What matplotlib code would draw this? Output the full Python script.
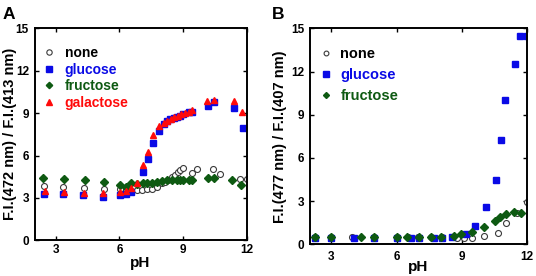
import matplotlib
matplotlib.use("Agg")
import matplotlib.pyplot as plt

plt.rcParams['font.family'] = ['Liberation Sans', 'DejaVu Sans']
plt.rcParams['font.weight'] = 'bold'

# ---------------- Panel A data ----------------
a_none_ph = [2.46, 3.36, 4.35, 5.28, 6.03, 6.30, 6.55, 6.82, 7.07, 7.30, 7.53, 7.76, 8.00,
             8.15, 8.30, 8.47, 8.62, 8.75, 8.86, 9.02, 9.42, 9.65, 10.39, 10.75, 11.69, 12.0]
a_none_val = [3.87, 3.80, 3.68, 3.63, 3.60, 3.55, 3.51, 3.55, 3.55, 3.60, 3.65, 3.75, 4.03,
              4.15, 4.27, 4.45, 4.62, 4.80, 4.98, 5.10, 4.74, 5.05, 5.05, 4.69, 4.34, 4.34]

a_glu_ph = [2.46, 3.36, 4.30, 5.21, 6.03, 6.30, 6.54, 7.10, 7.37, 7.60, 7.89, 8.08, 8.24,
            8.40, 8.56, 8.72, 8.88, 9.02, 9.26, 9.44, 10.17, 10.48, 11.42, 11.82]
a_glu_val = [3.28, 3.25, 3.21, 3.04, 3.18, 3.28, 3.44, 4.81, 5.75, 6.86, 7.74, 8.25, 8.42,
             8.55, 8.63, 8.72, 8.82, 8.92, 9.06, 9.06, 9.53, 9.78, 9.34, 7.93]

a_fru_ph = [2.40, 3.40, 4.36, 5.28, 6.03, 6.30, 6.54, 6.82, 7.10, 7.30, 7.53, 7.76, 8.00,
            8.24, 8.47, 8.71, 8.88, 9.02, 9.26, 9.42, 10.17, 10.48, 11.30, 11.73]
a_fru_val = [4.43, 4.34, 4.27, 4.10, 3.91, 3.75, 4.03, 3.98, 4.03, 4.05, 4.08, 4.15, 4.22,
             4.27, 4.30, 4.30, 4.25, 4.27, 4.27, 4.27, 4.43, 4.39, 4.27, 3.91]

a_gal_ph = [2.50, 3.38, 4.32, 5.24, 6.05, 6.32, 6.56, 6.82, 7.10, 7.37, 7.60, 7.89, 8.10,
            8.26, 8.42, 8.58, 8.74, 8.92, 9.08, 9.26, 9.44, 10.14, 10.48, 11.40, 11.77]
a_gal_val = [3.46, 3.42, 3.37, 3.33, 3.40, 3.50, 3.70, 4.08, 5.33, 6.27, 7.45, 8.09, 8.30,
             8.45, 8.60, 8.70, 8.80, 8.95, 9.02, 9.10, 9.22, 9.88, 9.94, 9.88, 9.10]

# ---------------- Panel B data ----------------
b_none_ph = [2.23, 3.0, 3.95, 4.97, 6.0, 6.55, 7.0, 7.6, 8.1, 8.81, 9.12, 9.48, 10.04,
             10.66, 11.04, 11.55, 12.0]
b_none_val = [0.5, 0.5, 0.5, 0.5, 0.5, 0.5, 0.5, 0.5, 0.5, 0.42, 0.46, 0.46, 0.58,
              0.76, 1.46, 2.15, 2.92]

b_glu_ph = [2.23, 3.0, 4.04, 4.97, 6.04, 6.66, 7.03, 7.72, 8.10, 8.57, 9.18, 9.63, 10.12,
            10.58, 10.81, 11.01, 11.44, 11.67, 12.01]
b_glu_val = [0.45, 0.45, 0.45, 0.45, 0.45, 0.45, 0.45, 0.45, 0.45, 0.49, 0.70, 1.29, 2.57,
             4.47, 7.25, 10.03, 12.5, 14.44, 14.48]

b_fru_ph = [2.23, 3.0, 4.38, 4.97, 6.0, 6.5, 7.03, 7.57, 8.07, 8.66, 8.98, 9.5, 10.01,
            10.52, 10.78, 11.06, 11.40, 11.75]
b_fru_val = [0.53, 0.53, 0.52, 0.50, 0.48, 0.48, 0.48, 0.48, 0.50, 0.55, 0.70, 0.83, 1.18,
             1.62, 1.88, 2.09, 2.27, 2.20]

xticks = [3, 6, 9, 12]
yticks = [0, 3, 6, 9, 12, 15]

BLUE = '#0A0AE6'
GREEN = '#0E5A12'
RED = '#FF0A0A'
GRAY = '#3a3a3a'

W, H = 536, 276
fig = plt.figure(figsize=(W / 100, H / 100), dpi=100)

axA = fig.add_axes([34.5 / W, (H - 240.3) / H, (246.7 - 34.5) / W, (240.3 - 28.3) / H])
axB = fig.add_axes([309.7 / W, (H - 244.3) / H, (526.7 - 309.7) / W, (244.3 - 28.3) / H])


def style(ax, ylabel, xpad, ypad, xlabelpad):
    ax.set_xlim(2, 12)
    ax.set_ylim(0, 15)
    ax.set_xticks(xticks)
    ax.set_yticks(yticks)
    ax.tick_params(direction='in', top=True, right=True, length=3, width=1.0,
                   labelsize=8.5)
    ax.tick_params(axis='x', pad=xpad)
    ax.tick_params(axis='y', pad=ypad)
    for s in ax.spines.values():
        s.set_linewidth(1.4)
    ax.set_xlabel('pH', fontsize=11, fontweight='bold', labelpad=xlabelpad)
    ax.set_ylabel(ylabel, fontsize=10.5, fontweight='bold')


# Panel A
axA.plot(a_none_ph, a_none_val, 'o', ms=4.3, mfc='white', mec=GRAY, mew=0.8, label='none')
axA.plot(a_glu_ph, a_glu_val, 's', ms=4.3, color=BLUE, mec=BLUE, label='glucose')
axA.plot(a_fru_ph, a_fru_val, 'D', ms=3.6, color=GREEN, mec=GREEN, label='fructose')
axA.plot(a_gal_ph, a_gal_val, '^', ms=5.0, color=RED, mec=RED, label='galactose')
style(axA, 'F.I.(472 nm) / F.I.(413 nm)', 2.5, 4, 0)
axA.yaxis.set_label_coords(-0.082, 0.5)

# Panel B
axB.plot(b_none_ph, b_none_val, 'o', ms=4.3, mfc='white', mec=GRAY, mew=0.8, label='none')
axB.plot(b_glu_ph, b_glu_val, 's', ms=4.6, color=BLUE, mec=BLUE, label='glucose')
axB.plot(b_fru_ph, b_fru_val, 'D', ms=3.8, color=GREEN, mec=GREEN, label='fructose')
style(axB, 'F.I.(477 nm) / F.I.(407 nm)', 4.5, 4, -2)
axB.yaxis.set_label_coords(-0.105, 0.5)

text_colors = ['black', BLUE, GREEN, RED]

legA = axA.legend(loc='upper left', bbox_to_anchor=(0.035, 0.915), frameon=False,
                  fontsize=10, handlelength=1.0, handletextpad=0.65, borderpad=0,
                  borderaxespad=0, labelspacing=0.18, markerscale=0.9)
for t, c in zip(legA.get_texts(), text_colors):
    t.set_color(c)
    t.set_fontweight('bold')

legB = axB.legend(loc='upper left', bbox_to_anchor=(0.04, 0.915), frameon=False,
                  fontsize=10.5, handlelength=1.0, handletextpad=0.5, borderpad=0,
                  borderaxespad=0, labelspacing=0.5, markerscale=0.8)
for t, c in zip(legB.get_texts(), text_colors):
    t.set_color(c)
    t.set_fontweight('bold')

fig.text(3 / W, 1 - 7 / H, 'A', fontsize=12.5, fontweight='bold', va='top', ha='left')
fig.text(272 / W, 1 - 7 / H, 'B', fontsize=12.5, fontweight='bold', va='top', ha='left')

fig.savefig('out.png', dpi=100)
